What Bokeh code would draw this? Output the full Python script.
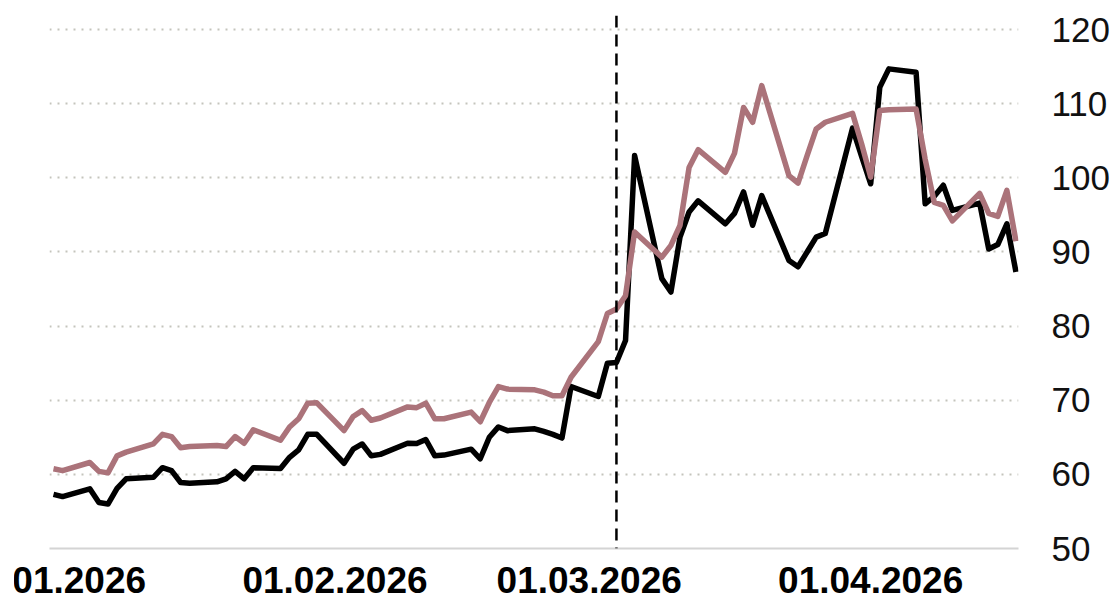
from datetime import datetime, timedelta
from bokeh.plotting import figure
from bokeh.models import Range1d, FixedTicker, Span, ColumnDataSource, DatetimeTickFormatter
from bokeh.embed import file_html
from bokeh.resources import INLINE

# ---------------- data ----------------
dates = [
    "2026-01-01", "2026-01-02",
    "2026-01-05", "2026-01-06", "2026-01-07", "2026-01-08", "2026-01-09",
    "2026-01-12", "2026-01-13", "2026-01-14", "2026-01-15", "2026-01-16",
    "2026-01-19", "2026-01-20", "2026-01-21", "2026-01-22", "2026-01-23",
    "2026-01-26", "2026-01-27", "2026-01-28", "2026-01-29", "2026-01-30",
    "2026-02-02", "2026-02-03", "2026-02-04", "2026-02-05", "2026-02-06",
    "2026-02-09", "2026-02-10", "2026-02-11", "2026-02-12", "2026-02-13",
    "2026-02-16", "2026-02-17", "2026-02-18", "2026-02-19", "2026-02-20",
    "2026-02-23", "2026-02-24", "2026-02-25", "2026-02-26", "2026-02-27",
    "2026-03-02", "2026-03-03", "2026-03-04", "2026-03-05", "2026-03-06",
    "2026-03-09", "2026-03-10", "2026-03-11", "2026-03-12", "2026-03-13",
    "2026-03-16", "2026-03-17", "2026-03-18", "2026-03-19", "2026-03-20",
    "2026-03-23", "2026-03-24", "2026-03-25", "2026-03-26", "2026-03-27",
    "2026-03-30", "2026-03-31", "2026-04-01", "2026-04-02", "2026-04-03",
    "2026-04-06", "2026-04-07", "2026-04-08", "2026-04-09", "2026-04-10",
    "2026-04-13", "2026-04-14", "2026-04-15", "2026-04-16", "2026-04-17",
]

series_black = [
    57.3, 57.0,
    58.05, 56.2, 56.0, 58.1, 59.4,
    59.6, 60.9, 60.5, 58.9, 58.8,
    59.0, 59.4, 60.4, 59.4, 60.9,
    60.8, 62.3, 63.3, 65.4, 65.4,
    61.5, 63.4, 64.1, 62.5, 62.7,
    64.2, 64.15, 64.7, 62.5, 62.6,
    63.4, 62.1, 65.0, 66.4, 65.9,
    66.15, 65.8, 65.4, 64.9, 71.85,
    70.5, 75.0, 75.1, 78.05, 103.0,
    86.4, 84.6, 92.0, 95.4, 96.9,
    93.8, 95.2, 98.1, 93.6, 97.6,
    88.85, 88.0, 90.0, 92.0, 92.5,
    106.7, 102.9, 99.2, 112.2, 114.7,
    114.25, 96.5, 97.5, 99.0, 95.6,
    96.6, 90.4, 91.0, 93.8, 87.3,
]

series_mauve = [
    60.75, 60.5,
    61.6, 60.4, 60.2, 62.5, 63.0,
    64.1, 65.4, 65.1, 63.6, 63.75,
    63.9, 63.75, 65.1, 64.2, 66.0,
    64.6, 66.4, 67.5, 69.6, 69.65,
    65.9, 67.8, 68.6, 67.3, 67.6,
    69.1, 69.0, 69.6, 67.5, 67.5,
    68.4, 67.1, 69.7, 71.85, 71.5,
    71.4, 71.1, 70.6, 70.6, 73.1,
    77.9, 81.7, 82.3, 84.1, 92.7,
    89.3, 90.9, 93.6, 101.4, 103.8,
    100.75, 103.3, 109.5, 107.5, 112.45,
    100.3, 99.3, 103.0, 106.6, 107.5,
    108.7, 104.6, 100.1, 109.1, 109.2,
    109.3, 102.5, 96.7, 96.3, 94.2,
    97.9, 95.2, 94.8, 98.3, 91.45,
]

x_ticks = ["2026-01-01", "2026-02-01", "2026-03-01", "2026-04-01"]
y_ticks = [50, 60, 70, 80, 90, 100, 110, 120]
event_date = "2026-03-04"

# ---------------- helpers ----------------
def to_dt(s):
    return datetime.strptime(s, "%Y-%m-%d")

def to_ms(s):
    return (to_dt(s) - datetime(1970, 1, 1)).total_seconds() * 1000.0

xs = [to_dt(s) for s in dates]
src = ColumnDataSource(data=dict(x=xs, a=series_black, b=series_mauve))

x0 = to_dt(dates[0]) - timedelta(days=0.44)
x1 = to_dt(dates[-1]) + timedelta(days=0.28)
Y0, Y1 = 50, 121.9

# the canvas runs past the left page edge and is cut a few px in, so the first
# date label is cut off at the left just as in the reference
SHIFT = 40
CUT = 14

p = figure(
    width=1116 + SHIFT, height=606,
    x_axis_type="datetime", y_axis_location="right",
    x_range=Range1d(x0, x1), y_range=Range1d(Y0, Y1),
    output_backend="svg", toolbar_location=None,
    min_border_left=49 + SHIFT, min_border_right=98, min_border_top=15, min_border_bottom=58,
    styles={"margin-left": f"-{SHIFT}px",
            "clip-path": f"inset(0px 0px 0px {SHIFT + CUT}px)"},
)
p.outline_line_color = None
p.background_fill_color = "white"
p.border_fill_color = "white"

# grid
p.xgrid.visible = False
p.ygrid.ticker = FixedTicker(ticks=y_ticks[1:])
p.ygrid.grid_line_color = "#c4c4bc"
p.ygrid.grid_line_dash = "2 6"
p.ygrid.grid_line_width = 2

# x axis
fmt = "%d.%m.%Y"
p.xaxis.ticker = FixedTicker(ticks=[to_ms(t) for t in x_ticks])
p.xaxis.formatter = DatetimeTickFormatter(
    milliseconds=fmt, seconds=fmt, minsec=fmt, minutes=fmt, hourmin=fmt,
    hours=fmt, days=fmt, months=fmt, years=fmt)
p.xaxis.axis_line_color = "#d4d4d4"
p.xaxis.axis_line_width = 2
p.xaxis.major_tick_line_color = None
p.xaxis.minor_tick_line_color = None
p.xaxis.major_label_text_font = "Liberation Sans"
p.xaxis.major_label_text_font_style = "bold"
p.xaxis.major_label_text_font_size = "37px"
p.xaxis.major_label_text_color = "#000000"
p.xaxis.major_label_standoff = 12

# y axis
p.yaxis.ticker = FixedTicker(ticks=y_ticks)
p.yaxis.axis_line_color = None
p.yaxis.major_tick_line_color = None
p.yaxis.minor_tick_line_color = None
p.yaxis.major_label_text_font = "Liberation Sans"
p.yaxis.major_label_text_font_size = "35px"
p.yaxis.major_label_text_color = "#111111"
p.yaxis.major_label_standoff = 27

# event marker
p.add_layout(Span(location=to_ms(event_date), dimension="height",
                  line_color="black", line_width=2.5, line_dash="12 7"))

# lines
p.line("x", "a", source=src, line_color="#000000", line_width=5.5, line_join="round")
p.line("x", "b", source=src, line_color="#ab737a", line_width=5.5, line_join="round")

open("out.html", "w").write(file_html(p, INLINE))
